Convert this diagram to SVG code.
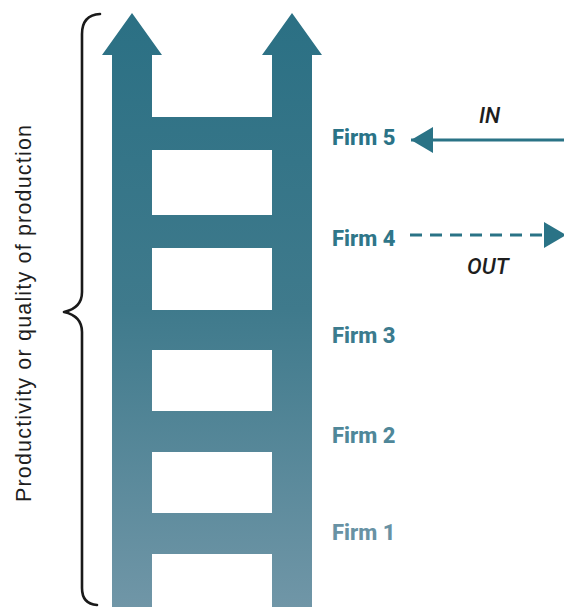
<svg xmlns="http://www.w3.org/2000/svg" width="564" height="607" viewBox="0 0 564 607">
<style>
.firm{font-family:Roboto,"Liberation Sans",sans-serif;font-weight:800;font-size:22px}
.io{font-family:Roboto,"Liberation Sans",sans-serif;font-style:italic;font-weight:500;font-size:22px;fill:#1e1e1e}
.axis{font-family:"Liberation Sans",Arial,sans-serif;font-size:21.5px;fill:#1e1e1e}
.brace{fill:none;stroke:#1a1a1a;stroke-width:2.6;stroke-linecap:round;stroke-linejoin:round}
.conn{stroke:#2a7386;stroke-width:3;fill:none}
</style>
<defs>
<linearGradient id="lad" gradientUnits="userSpaceOnUse" x1="0" y1="13" x2="0" y2="607">
<stop offset="0" stop-color="#2b7084"/>
<stop offset="0.5" stop-color="#3f7a8c"/>
<stop offset="1" stop-color="#7096a7"/>
</linearGradient>
<marker id="ah" viewBox="0 0 22 26" refX="22" refY="13" markerWidth="22" markerHeight="26" markerUnits="userSpaceOnUse" orient="auto">
<path d="M0,0 L22,13 L0,26 Z" fill="#2a7386"/>
</marker>
</defs>
<rect width="564" height="607" fill="#ffffff"/>
<g id="ladder" fill="url(#lad)">
<polygon points="102,55 132,13 162,55 152,55 152,607 112,607 112,55"/>
<polygon points="262,55 292,13 322,55 312,55 312,607 272,607 272,55"/>
<rect x="151" y="117" width="122" height="33"/>
<rect x="151" y="215" width="122" height="33"/>
<rect x="151" y="310" width="122" height="40"/>
<rect x="151" y="411" width="122" height="41"/>
<rect x="151" y="513" width="122" height="41"/>
</g>
<g id="brace">
<path class="brace" d="M100,14 Q82,15 82,34 L82,292 Q82,308 64,312 Q82,316 82,332 L82,588 Q82,604 97,605"/>
</g>
<g id="axis-label">
<text class="axis" transform="translate(31,502) rotate(-90)" textLength="377" lengthAdjust="spacing">Productivity or quality of production</text>
</g>
<g id="firm5"><text class="firm" x="332" y="145" fill="#2a7387">Firm 5</text></g>
<g id="firm4"><text class="firm" x="332" y="246" fill="#2f7689">Firm 4</text></g>
<g id="firm3"><text class="firm" x="332" y="343" fill="#3b7b8e">Firm 3</text></g>
<g id="firm2"><text class="firm" x="332" y="443" fill="#4f8799">Firm 2</text></g>
<g id="firm1"><text class="firm" x="332" y="540" fill="#6892a4">Firm 1</text></g>
<g id="connectors">
<line class="conn" x1="566" y1="140" x2="411" y2="140" marker-end="url(#ah)"/>
<line class="conn" x1="410" y1="235" x2="566" y2="235" stroke-dasharray="12 8" marker-end="url(#ah)"/>
<text class="io" x="479" y="123">IN</text>
<text class="io" x="467" y="274">OUT</text>
</g>
</svg>
